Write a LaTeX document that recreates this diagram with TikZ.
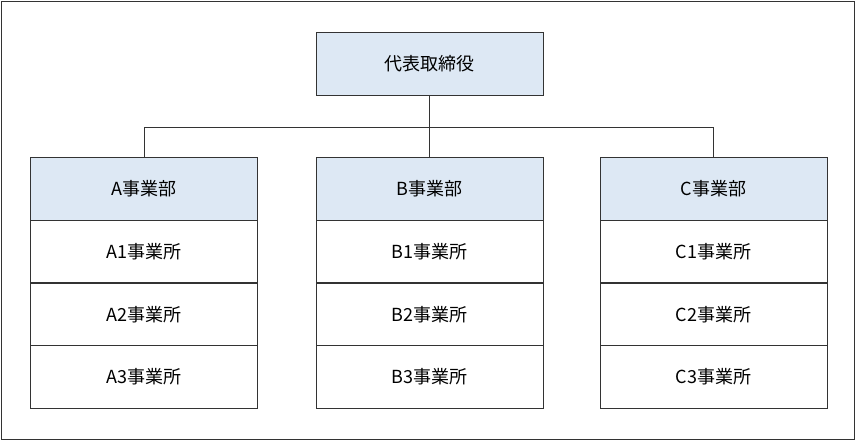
\documentclass[tikz,border=0pt]{standalone}
\usepackage{fontspec}
\setmainfont{Noto Sans CJK JP}[FontFace={l}{n}{Noto Sans CJK JP Light}]
\definecolor{hd}{HTML}{DDE8F4}
\tikzset{x=0.75pt,y=-0.75pt,
 cell/.style={draw=black!80,line width=0.6pt,minimum width=170.25pt,minimum height=47pt,inner sep=0pt,font=\fontsize{13.5pt}{15pt}\selectfont},
 head/.style={cell,fill=hd}}
\begin{document}
\begin{tikzpicture}
\draw[black!80,line width=0.6pt,fill=white] (1,1) rectangle (854,439);
\useasboundingbox (0,0) rectangle (856,441);
\node[head] (top) at (429.5,64) {代表取締役};
\foreach \c/\x in {A/144,B/429.5,C/713.5}{
 \node[head] (\c0) at (\x,189) {\c 事業部};
 \node[cell] (\c1) at (\x,251.5) {\c 1事業所};
 \node[cell] (\c2) at (\x,314.5) {\c 2事業所};
 \node[cell] (\c3) at (\x,377) {\c 3事業所};
}
\coordinate (j) at (429.5,127);
\draw[black!80,line width=0.6pt] (top.south) -- (j) -- (B0.north);
\draw[black!80,line width=0.6pt] (A0.north) -- (A0.north |- j) -- (C0.north |- j) -- (C0.north);
\end{tikzpicture}
\end{document}
